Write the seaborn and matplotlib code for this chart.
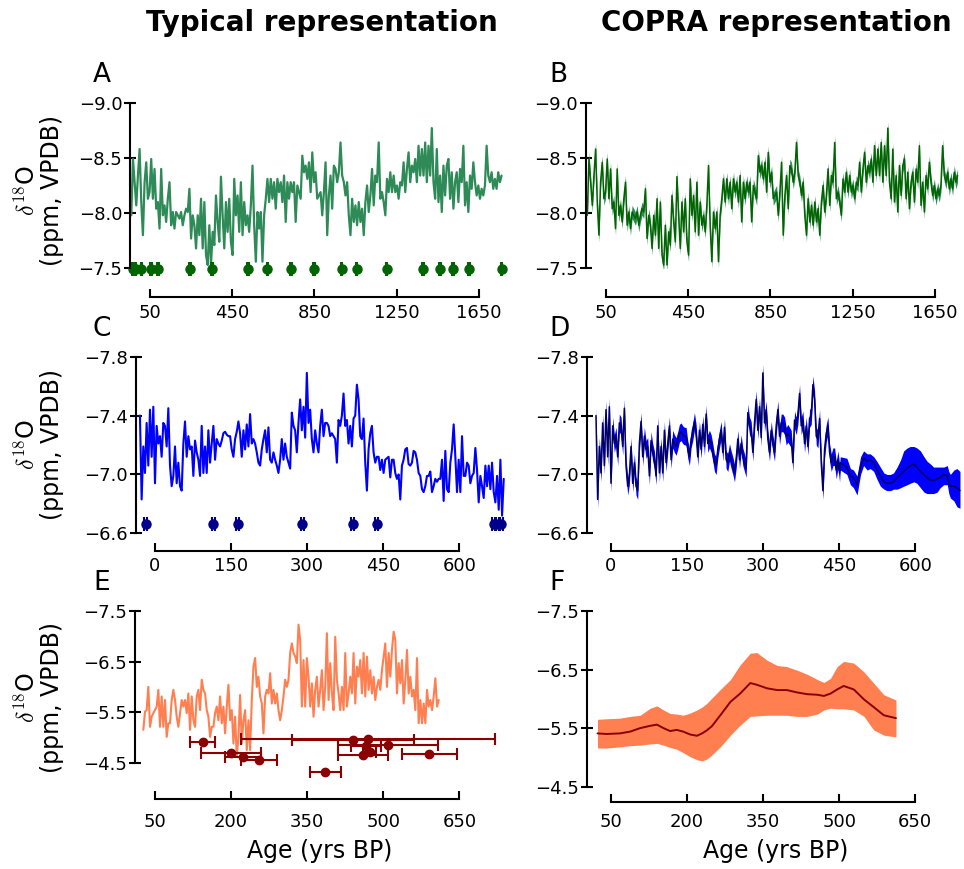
import numpy as np
import matplotlib
matplotlib.use("Agg")
import matplotlib.pyplot as plt
import seaborn as sns

# ---------------- data ----------------
# Panel A / B : record 1 (yrs BP, d18O)
a_age_start, a_age_end = -41, 1760
a_vals = [
    -7.98, -8.49, -8.28, -8.07, -8.34, -8.58, -8.10, -7.80, -8.28, -8.46,
    -8.13, -8.19, -8.49, -8.13, -8.40, -8.04, -8.10, -7.86, -8.40, -7.98,
    -8.07, -7.92, -8.13, -8.28, -7.89, -8.01, -7.86, -8.01, -7.98, -7.95,
    -8.01, -7.89, -7.98, -8.04, -8.01, -8.22, -7.77, -7.98, -7.89, -7.68,
    -7.98, -7.80, -8.13, -7.68, -8.10, -7.62, -7.53, -7.89, -7.53, -7.83,
    -7.71, -8.16, -7.92, -7.74, -8.33, -7.98, -7.68, -8.10, -7.83, -8.13,
    -7.74, -7.62, -8.31, -7.98, -8.16, -7.83, -8.28, -7.80, -8.10, -7.89,
    -7.98, -7.83, -8.07, -8.43, -7.89, -7.56, -8.01, -7.86, -8.01, -7.56,
    -7.98, -8.13, -8.31, -8.10, -8.31, -8.13, -8.28, -8.04, -8.31, -8.19,
    -8.28, -8.10, -8.34, -7.92, -8.28, -8.13, -8.28, -8.19, -8.28, -7.92,
    -8.25, -8.19, -8.13, -8.52, -8.37, -8.43, -8.31, -8.46, -8.19, -8.55,
    -8.28, -8.37, -8.13, -8.16,
    -8.19, -7.98, -8.19, -8.46, -7.80, -8.16, -8.34, -8.04, -8.43, -8.40,
    -8.28, -8.37, -8.64, -8.34, -8.28, -8.16, -8.28, -7.98, -7.80, -8.13,
    -7.92, -8.07, -7.89, -8.10, -7.92, -8.04, -7.80, -8.10, -8.25, -8.01,
    -8.16, -8.40, -8.07, -8.34, -8.28, -8.64, -8.13, -8.19, -8.10, -7.98,
    -8.31, -8.19, -8.37, -8.19, -8.34, -8.19, -8.25, -8.13, -8.28, -8.25,
    -8.46, -8.19, -8.40, -8.55, -8.28, -8.43, -8.37, -8.49, -8.28, -8.61,
    -8.34, -8.58, -8.34, -8.64, -8.28, -8.61, -8.34, -8.77, -8.28, -8.13,
    -8.58, -8.10, -8.34, -8.01, -8.43, -8.16, -8.43, -8.49, -8.13, -8.37,
    -8.04, -8.28, -8.37, -8.10, -8.40, -8.28, -8.61, -8.07, -8.28, -8.01,
    -8.34, -8.22, -8.46, -8.28, -8.16, -8.25, -8.13, -8.22, -8.16, -8.25,
    -8.61, -8.34, -8.28, -8.37, -8.22, -8.31, -8.22, -8.37, -8.28, -8.34,
]
a_dot_age = [-35, -20, 8, 56, 89, 243, 351, 527, 621, 737, 849, 982, 1055,
             1201, 1379, 1460, 1525, 1603, 1760]
a_dot_level = -7.49
a_dot_err = 4
b_half = 0.06

# Panel C / D : record 2
c_age_start, c_age_end = -29.6, 687.5
c_vals = [
    -7.40, -6.83, -7.19, -7.01, -7.35, -7.06, -7.44, -7.12, -7.46, -6.94,
    -7.33, -7.21, -7.26, -7.12, -7.35, -7.33, -7.19, -7.45, -7.06, -6.92,
    -6.99, -7.19, -6.94, -7.08, -6.92, -6.89, -7.21, -7.36, -7.12, -7.26,
    -7.17, -7.19, -6.99, -7.23, -7.15, -7.10, -6.99, -7.33, -7.01, -7.19,
    -7.01, -7.30, -7.08, -7.21, -7.33, -7.10, -7.24, -7.21, -7.19, -7.23,
    -7.28, -7.29, -7.27, -7.26, -7.26, -7.17, -7.12, -7.24, -7.29, -7.36,
    -7.28, -7.12, -7.30, -7.17, -7.34, -7.19, -7.41, -7.21, -7.24, -7.21,
    -7.15, -7.08, -7.06, -7.17, -7.24, -7.30, -7.15, -7.32, -7.10, -7.08,
    -7.15, -7.10, -7.06, -7.01, -7.10, -7.24, -7.10, -7.21, -7.12, -7.08,
    -7.04, -7.42, -7.33, -7.30, -7.15, -7.35, -7.51, -7.30, -7.46, -7.25,
    -7.69, -7.35, -7.44, -7.24, -7.15, -7.30, -7.21, -7.15, -7.33, -7.44,
    -7.26, -7.35, -7.35, -7.33, -7.26, -7.28, -7.26, -7.24, -7.08, -7.37,
    -7.33, -7.40, -7.55, -7.33, -7.37, -7.21, -7.33, -7.19, -7.38, -7.40,
    -7.61, -7.51, -7.26, -7.24, -7.38, -7.08, -6.89, -7.17, -7.28, -7.33,
    -7.15, -7.08, -7.12, -7.12, -7.03, -7.10, -7.01, -7.10, -7.11, -7.12,
    -6.98, -7.10, -7.10, -7.01, -6.97, -7.00, -6.83, -7.06, -7.10, -7.17,
    -7.18, -7.07, -7.06, -7.08, -7.16, -7.15, -7.10, -7.01, -6.99, -6.90,
    -6.88, -6.92, -6.99, -6.99, -7.02, -6.88, -6.92, -6.97, -6.95, -6.97,
    -6.97, -7.10, -6.82, -7.16, -6.90, -6.88, -7.08, -7.17, -7.34, -7.12,
    -6.88, -7.10, -6.88, -7.26, -6.99, -6.99, -7.08, -7.06, -6.94, -6.99,
    -7.01, -7.18, -7.03, -6.81, -6.99, -6.92, -6.84, -7.06, -6.92, -7.06,
    -6.90, -7.08, -6.88, -6.81, -6.99, -6.76, -7.10, -6.72, -6.97,
]
c_dot_age = [-18, 115, 163, 290, 390, 437, 668, 676, 683]
c_dot_level = -6.66
c_dot_err = 3
d_half_head = 0.06
d_tail_start = 452
d_tail_age = [452, 465, 472, 478, 485, 492, 498, 505, 511, 518, 524, 531, 538,
              544, 551, 557, 564, 571, 577, 584, 590, 597, 603, 610, 617, 623,
              630, 636, 643, 649, 656, 663, 666, 669, 676, 682, 688]
d_tail_med = [-7.08, -7.05, -6.99, -6.98, -6.93, -7.05, -7.11, -7.09, -7.10,
              -7.08, -7.03, -6.99, -6.95, -6.94, -6.94, -6.95, -6.98, -7.00,
              -7.02, -7.04, -7.06, -7.07, -7.05, -7.02, -7.00, -6.98, -6.96,
              -6.96, -6.97, -6.98, -7.00, -6.99, -6.94, -6.92, -6.92, -6.91,
              -6.89]
d_tail_up = [-7.12, -7.11, -7.04, -7.03, -6.99, -7.12, -7.16, -7.14, -7.14,
             -7.12, -7.09, -7.05, -7.01, -7.00, -7.00, -7.01, -7.05, -7.10,
             -7.16, -7.18, -7.19, -7.19, -7.18, -7.16, -7.12, -7.09, -7.07,
             -7.05, -7.05, -7.05, -7.05, -7.06, -7.02, -7.00, -7.03, -7.04,
             -7.02]
d_tail_lo = [-7.03, -7.00, -6.93, -6.91, -6.86, -7.00, -7.06, -7.03, -7.04,
             -7.02, -6.97, -6.92, -6.90, -6.89, -6.89, -6.90, -6.90, -6.91,
             -6.92, -6.93, -6.94, -6.95, -6.94, -6.91, -6.88, -6.87, -6.87,
             -6.87, -6.88, -6.91, -6.93, -6.93, -6.87, -6.84, -6.82, -6.78,
             -6.77]

# Panel E / F : record 3
e_age_start, e_age_end = 27, 609.3
e_vals = [
    -5.15, -5.51, -5.54, -6.00, -5.21, -5.41, -5.48, -5.54, -5.61, -5.94,
    -5.21, -5.81, -5.21, -5.74, -5.01, -5.28, -5.28, -5.74, -5.94, -5.74,
    -5.41, -5.21, -5.48, -5.74, -5.61, -5.74, -5.48, -5.87, -5.15, -5.81,
    -5.34, -5.21, -5.81, -5.94, -5.54, -6.14, -5.94, -5.87, -5.54, -5.41,
    -5.01, -5.21, -5.21, -5.48, -5.61, -5.34, -5.81, -5.28, -5.61, -5.08,
    -5.61, -6.04, -5.34, -5.54, -4.88, -5.41, -4.62, -5.01, -5.84, -4.88,
    -5.34, -5.54, -4.75, -5.34, -4.75, -5.74, -6.40, -6.57, -6.00, -6.20,
    -5.81, -5.67, -5.08, -5.81, -5.94, -5.87, -6.27, -5.67, -5.94, -5.67,
    -5.87, -5.54, -5.34, -5.54, -5.81, -6.14, -6.00, -6.14, -6.67, -6.86,
    -6.67, -6.60, -6.47, -7.23, -6.93, -5.61, -6.53, -5.61, -6.57, -6.20,
    -5.61, -6.07, -5.41, -5.94, -6.20, -5.61, -5.94, -6.33, -5.54, -6.00,
    -7.06, -5.74, -6.47, -5.87, -5.54, -6.99, -6.14, -5.87, -5.54, -6.00,
    -5.54, -6.67, -5.61, -5.87, -6.20, -5.87, -6.67, -5.67, -6.40, -6.20,
    -6.53, -5.87, -6.67, -5.81, -6.60, -5.94, -6.33, -5.87, -6.20, -5.74,
    -6.00, -6.14, -5.94, -6.33, -6.60, -6.86, -6.00, -6.67, -6.20, -6.73,
    -7.09, -6.93, -5.87, -6.47, -6.07, -6.53, -5.67, -6.14, -6.73, -5.87,
    -6.20, -5.81, -5.94, -5.54, -6.57, -5.28, -5.74, -5.28, -5.67, -5.28,
    -5.94, -5.61, -5.74, -5.54, -5.81, -6.17, -5.61, -5.74,
]
e_dot_age = [144, 200, 224, 255, 386, 440, 470, 509, 460, 473, 466, 591]
e_dot_val = [-4.90, -4.69, -4.61, -4.55, -4.32, -4.95, -4.97, -4.85, -4.65,
             -4.72, -4.84, -4.67]
e_dot_err = [25, 59, 35, 36, 30, 120, 250, 99, 49, 12, 30, 55]

f_age = [24, 42, 68, 88, 108, 128, 141, 154, 167, 180, 193, 207, 220, 230,
         239, 249, 266, 286, 305, 325, 338, 358, 378, 397, 417, 437, 457, 470,
         483, 496, 509, 529, 549, 568, 588, 612]
f_med = [-5.41, -5.40, -5.41, -5.44, -5.50, -5.54, -5.56, -5.50, -5.45, -5.47,
         -5.44, -5.39, -5.37, -5.41, -5.46, -5.53, -5.72, -5.95, -6.09, -6.27,
         -6.24, -6.18, -6.15, -6.15, -6.11, -6.08, -6.07, -6.05, -6.09, -6.16,
         -6.22, -6.16, -5.99, -5.86, -5.72, -5.67]
f_up = [-5.65, -5.66, -5.67, -5.70, -5.72, -5.84, -5.88, -5.81, -5.75, -5.74,
        -5.72, -5.76, -5.81, -5.86, -5.92, -6.01, -6.16, -6.33, -6.58, -6.78,
        -6.79, -6.66, -6.57, -6.55, -6.49, -6.42, -6.33, -6.28, -6.35, -6.55,
        -6.64, -6.61, -6.46, -6.27, -6.07, -5.98]
f_lo = [-5.16, -5.16, -5.18, -5.20, -5.21, -5.23, -5.24, -5.21, -5.17, -5.14,
        -5.08, -5.01, -4.96, -4.94, -4.97, -5.04, -5.18, -5.38, -5.55, -5.70,
        -5.71, -5.72, -5.72, -5.72, -5.70, -5.70, -5.74, -5.81, -5.84, -5.83,
        -5.83, -5.81, -5.70, -5.47, -5.38, -5.35]

xticks_ab = [50, 450, 850, 1250, 1650]
yticks_ab = [-9.0, -8.5, -8.0, -7.5]
xticks_cd = [0, 150, 300, 450, 600]
yticks_cd = [-7.8, -7.4, -7.0, -6.6]
xticks_ef = [50, 200, 350, 500, 650]
yticks_ef = [-7.5, -6.5, -5.5, -4.5]

titles = ["Typical representation", "COPRA representation"]
letters = ["A", "B", "C", "D", "E", "F"]
ylab = "$\\delta^{18}$O\n(ppm, VPDB)"
xlab = "Age (yrs BP)"

# ---------------- style ----------------
sns.set_style("white")
plt.rcParams['font.family'] = ['DejaVu Sans']
plt.rcParams['mathtext.fontset'] = 'cm'
plt.rcParams['text.color'] = 'black'
plt.rcParams['axes.labelcolor'] = 'black'
plt.rcParams['xtick.color'] = 'black'
plt.rcParams['ytick.color'] = 'black'

W, H = 964, 869
fig = plt.figure(figsize=(W / 100, H / 100), dpi=100)


def make_ax(left, top, right, bottom, xlim, ylim, xticks, yticks, boff, xpad):
    ax = fig.add_axes([left / W, 1 - bottom / H, (right - left) / W, (bottom - top) / H])
    ax.set_xlim(*xlim)
    ax.set_ylim(*ylim)
    ax.set_xticks(xticks)
    ax.set_yticks(yticks)
    ax.set_yticklabels([f"{v:.1f}".replace("-", "\u2212") for v in yticks])
    for s in ["top", "right"]:
        ax.spines[s].set_visible(False)
    for s in ["left", "bottom"]:
        ax.spines[s].set_linewidth(1.5)
        ax.spines[s].set_color("black")
    ax.spines["bottom"].set_position(("outward", boff))
    ax.spines["bottom"].set_bounds(xticks[0], xticks[-1])
    ax.spines["left"].set_bounds(min(yticks), max(yticks))
    ax.tick_params(axis="x", direction="in", length=6, width=1.5, pad=xpad,
                   labelsize=13, colors="black", bottom=True)
    ax.tick_params(axis="y", direction="inout", length=9, width=1.5, pad=1,
                   labelsize=13, colors="black", left=True)
    ax.grid(False)
    return ax


def band_line(ax, x, lo, hi, mid, fc, lc, lw=1.5):
    ax.fill_between(x, lo, hi, color=fc, lw=0)
    sns.lineplot(x=x, y=mid, ax=ax, color=lc, lw=lw, estimator=None, sort=False)


def dots(ax, x, y, xerr, color, ms, cap):
    cont = ax.errorbar(x, y, xerr=xerr, fmt="o", color=color, ms=ms,
                       capsize=cap, elinewidth=1.5, capthick=1.5)
    for art in cont.get_children():
        art.set_clip_on(False)


# axes geometry (pixels)
A = make_ax(130, 102.7, 503, 268.3, (-47.3, 1767), (-7.5, -9.0), xticks_ab, yticks_ab, 20.4, 5)
B = make_ax(585.5, 102.7, 959, 268.3, (-49.7, 1767), (-7.5, -9.0), xticks_ab, yticks_ab, 20.4, 5)
C = make_ax(135.5, 356.7, 505, 533.3, (-38.4, 690), (-6.6, -7.8), xticks_cd, yticks_cd, 12.4, 5)
D = make_ax(586.5, 356.7, 961, 533.3, (-48.3, 690), (-6.6, -7.8), xticks_cd, yticks_cd, 12.4, 5)
E = make_ax(135, 611, 505, 762.7, (10.6, 740), (-4.5, -7.5), xticks_ef, yticks_ef, 26.1, 10)
F = make_ax(586.5, 611, 965, 786.7, (2.3, 748), (-4.5, -7.5), xticks_ef, yticks_ef, 11, 8)

# ---- A ----
a_age = np.linspace(a_age_start, a_age_end, len(a_vals))
a_v = np.array(a_vals)
sns.lineplot(x=a_age, y=a_v, ax=A, color="#2E8B57", lw=1.6, estimator=None, sort=False)
dots(A, a_dot_age, np.full(len(a_dot_age), a_dot_level), a_dot_err, "#006400", 6.5, 5)

# ---- B ----
band_line(B, a_age, a_v - b_half, a_v + b_half, a_v, "#2E8B57", "#006400", 1.1)

# ---- C ----
c_age = np.linspace(c_age_start, c_age_end, len(c_vals))
c_v = np.array(c_vals)
sns.lineplot(x=c_age, y=c_v, ax=C, color="#0000FF", lw=1.5, estimator=None, sort=False)
dots(C, c_dot_age, np.full(len(c_dot_age), c_dot_level), c_dot_err, "#00008B", 6.5, 5)

# ---- D ----
head = c_age < d_tail_start
d_age = np.concatenate([c_age[head], d_tail_age])
d_med = np.concatenate([c_v[head], d_tail_med])
d_up = np.concatenate([c_v[head] - d_half_head, d_tail_up])
d_lo = np.concatenate([c_v[head] + d_half_head, d_tail_lo])
band_line(D, d_age, d_lo, d_up, d_med, "#0000FF", "#000066", 1.1)

# ---- E ----
e_age = np.linspace(e_age_start, e_age_end, len(e_vals))
sns.lineplot(x=e_age, y=e_vals, ax=E, color="#FF7F50", lw=1.5, estimator=None, sort=False)
dots(E, e_dot_age, e_dot_val, e_dot_err, "#8B0000", 6, 4)

# ---- F ----
band_line(F, f_age, f_lo, f_up, f_med, "#FF7F50", "#8B0000", 1.4)

# labels
for ax, left, width, yc in [(A, 130, 373, 0.47), (C, 135.5, 369.5, 0.5), (E, 135, 370, 0.43)]:
    ax.set_ylabel(ylab, fontsize=17, linespacing=1.0, color="black")
    ax.yaxis.set_label_coords((64 - left) / width, yc)
for ax in [B, D, F]:
    ax.set_ylabel("")
for ax in [A, B, C, D]:
    ax.set_xlabel("")
E.set_xlabel(xlab, fontsize=17, labelpad=6, color="black")
F.set_xlabel(xlab, fontsize=17, labelpad=6, color="black")

fig.text(322 / W, 1 - 31 / H, titles[0], ha="center", va="baseline",
         fontsize=20, fontweight="bold", color="black")
fig.text(776 / W, 1 - 31 / H, titles[1], ha="center", va="baseline",
         fontsize=20, fontweight="bold", color="black")

for lab, x, top in zip(letters, [93, 549, 93, 549, 93, 549],
                       [102.7, 102.7, 356.7, 356.7, 611, 611]):
    fig.text(x / W, 1 - (top - 21) / H, lab, ha="left", va="baseline",
             fontsize=19, color="black")

fig.savefig("out.png", dpi=100)
